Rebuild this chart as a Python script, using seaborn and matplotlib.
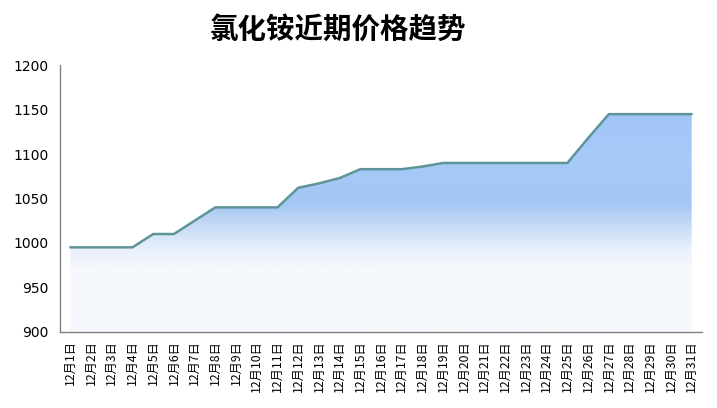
import numpy as np
import pandas as pd
import seaborn as sns
import matplotlib.pyplot as plt
from matplotlib.colors import LinearSegmentedColormap

dates = [f"12月{d}日" for d in range(1, 32)]
prices = [995, 995, 995, 995, 1010, 1010, 1025, 1040, 1040, 1040, 1040,
          1062, 1067, 1073, 1083, 1083, 1083, 1086, 1090, 1090, 1090, 1090,
          1090, 1090, 1090, 1118, 1145, 1145, 1145, 1145, 1145]
title = "氯化铵近期价格趋势"

sns.set_style("white")
plt.rcParams['font.family'] = ['DejaVu Sans', 'Noto Sans CJK SC']

df = pd.DataFrame({"date": dates, "price": prices})
df["pos"] = np.arange(len(df))

fig = plt.figure(figsize=(7.17, 4.08), dpi=100)
ax = fig.add_axes([0.0837, 0.187, 0.8954, 0.653])

# gradient fill under the line, banded by price level
ymin, ymax = 900, 1200
stops = [(900, "#f5f8fc"), (972, "#f5f8fc"), (992, "#eaf1fb"), (1018, "#c8dcf6"),
         (1045, "#a3c6f3"), (1100, "#a7cbf8"), (1150, "#9fc4f6"), (1200, "#9fc4f6")]
cmap = LinearSegmentedColormap.from_list(
    "fade", [((v - ymin) / (ymax - ymin), c) for v, c in stops])
grad = np.linspace(0, 1, 300).reshape(-1, 1)
poly = ax.fill_between(df["pos"], df["price"], ymin, color="none", lw=0)
im = ax.imshow(grad, extent=[-0.5, 30.5, ymin, ymax], origin="lower",
               aspect="auto", cmap=cmap, zorder=1)
im.set_clip_path(poly.get_paths()[0], transform=ax.transData)

sns.lineplot(data=df, x="pos", y="price", ax=ax, color="#5f9598", lw=1.8, zorder=3)

ax.set_xlim(-0.5, 30.5)
ax.set_ylim(ymin, ymax)
ax.set_xlabel("")
ax.set_ylabel("")
ax.set_xticks(df["pos"])
ax.set_xticklabels(dates, rotation=90, fontsize=8.8,
                   family=['Noto Sans CJK SC', 'DejaVu Sans'])
ax.set_xticks(np.arange(-0.5, 31, 1), minor=True)
ax.tick_params(axis="x", which="major", length=0, pad=6, labelcolor="black")
ax.tick_params(axis="x", which="minor", direction="in", length=5,
               color="#808080", width=1)
ax.set_yticks(range(900, 1201, 50))
ax.tick_params(axis="y", direction="in", length=6, color="#808080", width=1,
               labelsize=10, pad=8.5, labelcolor="black")
for s in ["top", "right"]:
    ax.spines[s].set_visible(False)
for s in ["left", "bottom"]:
    ax.spines[s].set_color("#808080")
    ax.spines[s].set_linewidth(1)

fig.text(337.5 / 717, 1 - 29.5 / 408, title, ha="center", va="center",
         fontsize=20.5, fontweight="heavy", color="black",
         family="Noto Sans CJK SC")

plt.savefig("out.png", dpi=100)
